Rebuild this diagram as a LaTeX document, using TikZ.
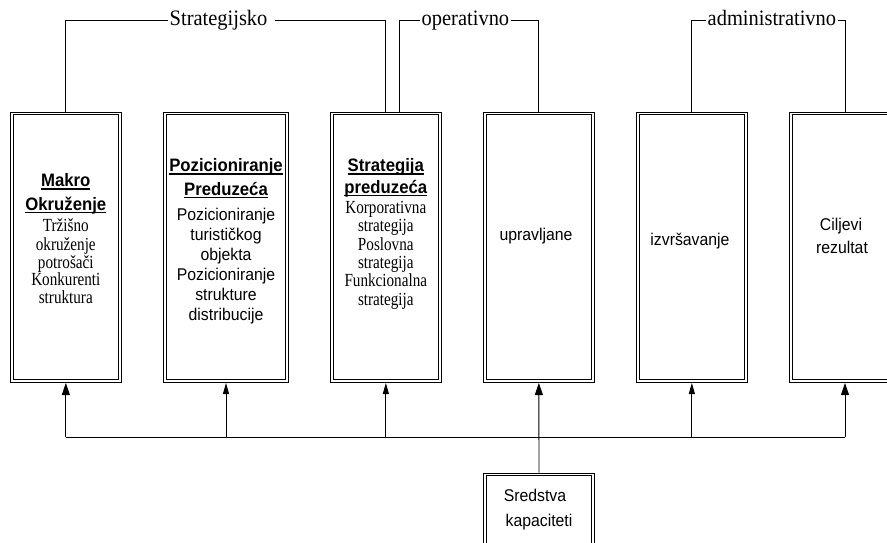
\documentclass[tikz,border=0pt]{standalone}
\usepackage{fontspec}
\setmainfont{Liberation Sans}
\newfontfamily\tnr[FakeStretch=0.93]{Liberation Serif}
\newfontfamily\tnrc[FakeStretch=0.82]{Liberation Serif}
\newfontfamily\arl[FakeStretch=0.93]{Liberation Sans}
\usetikzlibrary{arrows.meta}
\newcommand\ulx[1]{\setbox0\hbox{#1}\rlap{\rule[-3pt]{\wd0}{1.3pt}}\box0}
\begin{document}
\begin{tikzpicture}[x=1pt,y=-1pt,
  box/.style={draw, line width=1pt, minimum width=110.7pt, minimum height=270.3pt, inner sep=0pt},
  inner/.style={line width=1pt},
  hd/.style={font=\arl\bfseries\fontsize{18}{20}\selectfont, inner sep=0pt, anchor=base},
  tm/.style={font=\tnrc\fontsize{18.5}{20}\selectfont, inner sep=0pt, anchor=base},
  ar/.style={font=\arl\fontsize{17}{19}\selectfont, inner sep=0pt, anchor=base},
  lbl/.style={font=\tnr\fontsize{22}{24}\selectfont, inner sep=1.5pt, anchor=west, text height=15pt, text depth=4.5pt},
  conn/.style={line width=0.9pt},
  bigarr/.style={line width=0.9pt, -{Triangle[length=12pt,width=8pt]}},
  smallarr/.style={line width=0.8pt, -{Triangle[length=11pt,width=6pt]}}]
\useasboundingbox (0,0) rectangle (887,542);
\clip (0,0) rectangle (887,542);
\fill[white] (0,0) rectangle (887,542);

% boxes
\node[box] (box1) at (65.85,247.35) {};
\node[box, minimum width=124.4pt] (box2) at (226,247.35) {};
\node[box] (box3) at (385.85,247.35) {};
\node[box] (box4) at (538.85,247.35) {};
\node[box] (box5) at (691.85,247.35) {};
\node[box] (box6) at (845,247.35) {};
\node[box, minimum height=102pt] (sred) at (539,524) {};
\foreach \b in {box1,box2,box3,box4,box5,box6,sred}
  \draw[inner] ([shift={(3.2pt,-3.2pt)}]\b.north west) rectangle ([shift={(-3.2pt,3.2pt)}]\b.south east);

% box 1 text
\node[hd] (h1a) at (65.8,186.7) {\ulx{Makro}};
\node[hd] (h1b) at (65.8,210) {\ulx{Okruženje}};
\foreach \w/\yy [count=\i] in {Tržišno/231.7, okruženje/250, potrošači/268, Konkurenti/285.5, struktura/303}
  \node[tm] (a\i) at (65.8,\yy) {\w};

% box 2 text
\node[hd] (h2a) at (226,171.7) {\ulx{Pozicioniranje}};
\node[hd] (h2b) at (226,195) {\ulx{Preduzeća}};
\foreach \w/\yy [count=\i] in {Pozicioniranje/220, turističkog/240, objekta/260, Pozicioniranje/280, strukture/300, distribucije/320}
  \node[ar] (b\i) at (226,\yy) {\w};

% box 3 text
\node[hd] (h3a) at (385.8,171.7) {\ulx{Strategija}};
\node[hd] (h3b) at (385.8,193) {\ulx{preduzeća}};
\foreach \w/\yy [count=\i] in {Korporativna/213, strategija/231.7, Poslovna/250, strategija/268, Funkcionalna/286.7, strategija/305}
  \node[tm] (c\i) at (385.8,\yy) {\w};

% boxes 4-6 text
\node[ar] (d1) at (536,240) {upravljane};
\node[ar] (e1) at (690,245) {izvršavanje};
\node[ar] (f1) at (841,230) {Ciljevi};
\node[ar] (f2) at (842,253) {rezultat};
\node[ar] (g1) at (535,501.7) {Sredstva};
\node[ar] (g2) at (539,526.7) {kapaciteti};

% top labels
\node[lbl] (strat) at (168,20) {Strategijsko};
\node[lbl] (oper) at (420,20) {operativno};
\node[lbl] (adm) at (706,20) {administrativno};
\coordinate (sR) at (275,20);
\coordinate (aR) at (838,20);

\draw[conn] (box1.north) |- (strat.west);
\draw[conn] (sR) -| (box3.north);
\draw[conn] ([xshift=13.5pt]box3.north) |- (oper.west);
\draw[conn] (oper.east) -| (box4.north);
\draw[conn] (box5.north) |- (adm.west);
\draw[conn] (aR) -| (box6.north);

% bottom bus
\coordinate (busL) at (65.85,437);
\coordinate (busR) at (845,437);
\draw[conn] (busL) -- (busR);
\draw[bigarr] (busL) -- (box1.south);
\draw[smallarr] (box2.south |- busL) -- (box2.south);
\draw[smallarr] (box3.south |- busL) -- (box3.south);
\draw[bigarr] (sred.north) -- (box4.south);
\draw[smallarr] (box5.south |- busL) -- (box5.south);
\draw[bigarr] (busR) -- (box6.south);
\end{tikzpicture}
\end{document}
